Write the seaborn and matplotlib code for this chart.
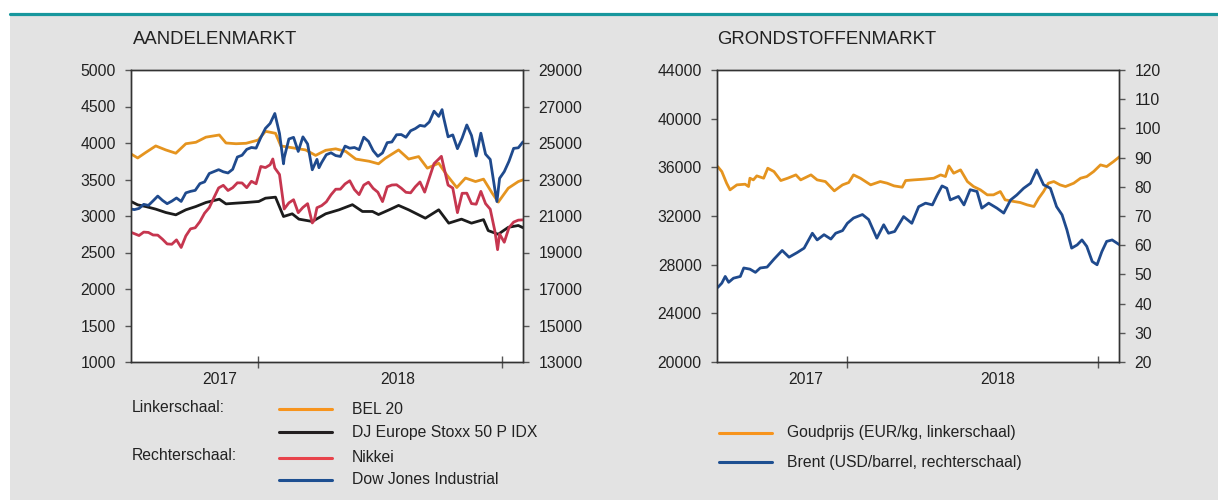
import pandas as pd
import seaborn as sns
import matplotlib.pyplot as plt
from matplotlib.lines import Line2D
from matplotlib.patches import Rectangle

# ---------------- data ----------------
# weekly Friday closes, Dow Jones and Nikkei
week_start, week_end = '2017-06-23', '2019-02-01'
dow_weekly = [21395, 21350, 21414, 21638, 21580, 21830, 22092, 21858, 21675, 21814,
              21988, 21798, 22268, 22350, 22405, 22774, 22871, 23329, 23434, 23539,
              23422, 23358, 23558, 24231, 24329, 24651, 24754, 24719,
              25296, 25803, 26072, 26616, 25521, 24190, 25219, 25310, 24538, 25336,
              24946, 23533, 24103, 23933, 24360, 24463, 24311, 24263, 24831, 24715,
              24753, 24635, 25317, 25090, 24581, 24271, 24456, 25019, 25058, 25451,
              25463, 25313, 25669, 25790, 25965, 25917, 26155, 26744, 26458, 26447,
              25340, 25444, 24688, 25271, 25989, 25413, 24286, 25538, 24389, 24101,
              22445, 23062,
              23433, 23996, 24706, 24737, 25064]
dow_extra_dates = ['2018-02-08', '2018-04-02', '2018-10-03', '2018-12-24']
dow_extra = [23860, 23644, 26828, 21792]

nikkei_weekly = [20133, 20033, 19929, 20118, 20099, 19959, 19952, 19730, 19470, 19452,
                 19691, 19275, 19910, 20296, 20356, 20691, 21155, 21457, 22008, 22539,
                 22681, 22397, 22551, 22819, 22811, 22553, 22902, 22765,
                 23714, 23653, 23808, 23631, 23274, 21383, 21720, 21892, 21182, 21469,
                 21676, 20618, 21454, 21568, 21778, 22162, 22467, 22472, 22758, 22930,
                 22450, 22171, 22694, 22851, 22516, 22304, 21788, 22597, 22697, 22712,
                 22525, 22298, 22270, 22601, 22865, 22307, 23094, 23869, 24120, 23784,
                 22694, 22532, 21184, 22243, 22250, 21680, 21646, 22351, 21679, 21375,
                 20166, 20015,
                 19561, 20360, 20666, 20774, 20788]
nikkei_extra_dates = ['2018-01-23', '2018-03-26', '2018-10-02', '2018-12-25']
nikkei_extra = [24124, 20766, 24270, 19155]

bel_dates = ['2017-06-25', '2017-07-05', '2017-07-17', '2017-08-01', '2017-08-16', '2017-08-31',
             '2017-09-15', '2017-09-30', '2017-10-15', '2017-11-04', '2017-11-14', '2017-11-29',
             '2017-12-14', '2018-01-01', '2018-01-12', '2018-01-27', '2018-02-04', '2018-02-21',
             '2018-03-13', '2018-03-28', '2018-04-12', '2018-04-27', '2018-05-12', '2018-05-27',
             '2018-06-16', '2018-06-30', '2018-07-10', '2018-07-30', '2018-08-14', '2018-08-29',
             '2018-09-11', '2018-09-28', '2018-10-10', '2018-10-25', '2018-11-07', '2018-11-22',
             '2018-12-04', '2018-12-17', '2018-12-26', '2019-01-10', '2019-01-25', '2019-02-01']
bel_values = [3850, 3795, 3870, 3960, 3905, 3860, 3990, 4010, 4080, 4110, 4000, 3990,
              3996, 4040, 4160, 4133, 3960, 3935, 3905, 3830, 3900, 3920, 3885, 3780,
              3750, 3715, 3790, 3905, 3780, 3814, 3655, 3723, 3563, 3390, 3520, 3472,
              3505, 3312, 3190, 3381, 3472, 3495]

stoxx_dates = ['2017-06-25', '2017-07-05', '2017-07-17', '2017-08-01', '2017-08-16', '2017-08-31',
               '2017-09-15', '2017-09-30', '2017-10-15', '2017-11-04', '2017-11-14', '2017-11-29',
               '2017-12-14', '2018-01-02', '2018-01-12', '2018-01-27', '2018-02-08', '2018-02-21',
               '2018-03-03', '2018-03-23', '2018-04-12', '2018-05-02', '2018-05-22', '2018-06-06',
               '2018-06-21', '2018-06-30', '2018-07-16', '2018-07-30', '2018-08-14', '2018-09-08',
               '2018-09-28', '2018-10-13', '2018-11-01', '2018-11-16', '2018-12-04', '2018-12-11',
               '2018-12-26', '2019-01-10', '2019-01-25', '2019-02-01']
stoxx_values = [3199, 3153, 3130, 3094, 3048, 3016, 3085, 3130, 3185, 3230, 3166, 3176,
                3185, 3199, 3244, 3258, 2993, 3030, 2957, 2925, 3030, 3085, 3155, 3062,
                3062, 3020, 3085, 3145, 3085, 2970, 3085, 2902, 2957, 2902, 2950, 2800,
                2750, 2845, 2870, 2840]

gold_dates = ['2017-06-26', '2017-07-02', '2017-07-09', '2017-07-14', '2017-07-24', '2017-08-05',
              '2017-08-10', '2017-08-12', '2017-08-17', '2017-08-22', '2017-09-01', '2017-09-07',
              '2017-09-16', '2017-09-26', '2017-10-06', '2017-10-18', '2017-10-25', '2017-11-09',
              '2017-11-18', '2017-11-30', '2017-12-13', '2017-12-25', '2018-01-03', '2018-01-10',
              '2018-01-20', '2018-02-04', '2018-02-18', '2018-02-28', '2018-03-10', '2018-03-22',
              '2018-03-27', '2018-04-08', '2018-04-22', '2018-05-07', '2018-05-17', '2018-05-24',
              '2018-05-29', '2018-06-05', '2018-06-15', '2018-06-25', '2018-07-04', '2018-07-14',
              '2018-07-24', '2018-08-02', '2018-08-12', '2018-08-19', '2018-09-01', '2018-09-10',
              '2018-09-20', '2018-09-30', '2018-10-07', '2018-10-14', '2018-10-21', '2018-10-29',
              '2018-11-07', '2018-11-15', '2018-11-27', '2018-12-07', '2018-12-16', '2018-12-26',
              '2019-01-05', '2019-01-14', '2019-01-24', '2019-02-02']
gold_values = [36064, 35654, 34696, 34148, 34559, 34613, 34422, 35106, 34969, 35298, 35106, 35927,
               35654, 34914, 35106, 35380, 34969, 35380, 34969, 34832, 34066, 34559, 34750, 35380,
               35106, 34559, 34832, 34696, 34477, 34367, 34914, 34969, 35024, 35106, 35380, 35243,
               36119, 35517, 35791, 34832, 34422, 34148, 33738, 33738, 34011, 33327, 33191, 33109,
               32917, 32780, 33464, 34011, 34696, 34832, 34559, 34422, 34696, 35106, 35243, 35654,
               36201, 36064, 36475, 36885]

brent_dates = ['2017-06-26', '2017-07-02', '2017-07-07', '2017-07-12', '2017-07-19', '2017-07-29',
               '2017-08-03', '2017-08-12', '2017-08-20', '2017-08-27', '2017-09-06', '2017-09-16',
               '2017-09-28', '2017-10-08', '2017-10-20', '2017-10-30', '2017-11-11', '2017-11-18',
               '2017-11-28', '2017-12-08', '2017-12-15', '2017-12-25', '2018-01-01', '2018-01-10',
               '2018-01-23', '2018-02-01', '2018-02-13', '2018-02-23', '2018-03-02', '2018-03-11',
               '2018-03-24', '2018-04-05', '2018-04-15', '2018-04-25', '2018-05-05', '2018-05-12',
               '2018-05-19', '2018-05-26', '2018-05-31', '2018-06-12', '2018-06-20', '2018-06-29',
               '2018-07-09', '2018-07-16', '2018-07-26', '2018-08-07', '2018-08-17', '2018-08-27',
               '2018-09-05', '2018-09-15', '2018-09-25', '2018-10-04', '2018-10-14', '2018-10-24',
               '2018-11-02', '2018-11-10', '2018-11-17', '2018-11-24', '2018-12-02', '2018-12-09',
               '2018-12-16', '2018-12-24', '2018-12-31', '2019-01-07', '2019-01-14', '2019-01-22',
               '2019-02-02']
brent_values = [45.5, 47.0, 49.3, 47.3, 48.7, 49.3, 52.2, 51.8, 50.7, 52.2, 52.5, 55.2,
                58.2, 55.9, 57.5, 59.0, 64.1, 61.8, 63.6, 62.1, 64.1, 65.0, 67.5, 69.3,
                70.5, 68.8, 62.4, 67.0, 64.1, 64.7, 69.8, 67.5, 73.2, 74.4, 73.8, 77.2,
                80.3, 79.5, 75.5, 76.7, 73.8, 79.0, 78.4, 72.7, 74.4, 72.7, 71.0, 75.5,
                77.2, 79.5, 81.2, 85.8, 80.7, 79.5, 73.2, 70.4, 65.3, 59.0, 60.1, 61.8,
                59.6, 54.4, 53.3, 57.8, 61.3, 61.8, 60.1]

titles = ['AANDELENMARKT', 'GRONDSTOFFENMARKT']
year_labels = ['2017', '2018']
year_ticks = ['2018-01-01', '2019-01-01']
left_groups = ['Linkerschaal:', 'Rechterschaal:']
left_labels = ['BEL 20', 'DJ Europe Stoxx 50 P IDX', 'Nikkei', 'Dow Jones Industrial']
right_labels = ['Goudprijs (EUR/kg, linkerschaal)', 'Brent (USD/barrel, rechterschaal)']

# colours
ORANGE, BLACK, RED, BLUE = '#E5941F', '#1C1C1C', '#C6364F', '#1F4A8D'
LEG_COLORS = ['#F7941D', '#231F20', '#E8434B', '#1D4F91']
TEXT = '#222222'


def series(dates, values, extra_dates=None, extra_values=None):
    df = pd.DataFrame({'date': pd.to_datetime(dates), 'value': values})
    if extra_dates:
        df = pd.concat([df, pd.DataFrame({'date': pd.to_datetime(extra_dates),
                                          'value': extra_values})])
    return df.sort_values('date')


weeks = pd.date_range(week_start, week_end, freq='W-FRI')
df_dow = series(list(weeks), dow_weekly, dow_extra_dates, dow_extra)
df_nikkei = series(list(weeks), nikkei_weekly, nikkei_extra_dates, nikkei_extra)
df_bel = series(bel_dates, bel_values)
df_stoxx = series(stoxx_dates, stoxx_values)
df_gold = series(gold_dates, gold_values)
df_brent = series(brent_dates, brent_values)

# ---------------- figure ----------------
sns.set_style('ticks')
plt.rcParams['font.family'] = ['Liberation Sans', 'DejaVu Sans']
plt.rcParams['text.color'] = TEXT

W, H = 1218, 500
fig = plt.figure(figsize=(W / 100, H / 100), dpi=100)
fig.patch.set_facecolor('white')
fig.add_artist(Rectangle((10 / W, 0), 1 - 10 / W, 1 - 15 / H, transform=fig.transFigure,
                         facecolor='#e3e3e3', edgecolor='none', zorder=-10))
fig.add_artist(Line2D([10 / W, 1], [1 - 13.5 / H] * 2, color='#17979d', lw=2.3))

ax1 = fig.add_axes([131 / W, 1 - 362 / H, 392 / W, 292 / H])
ax1r = ax1.twinx()
ax2 = fig.add_axes([717 / W, 1 - 362 / H, 402 / W, 292 / H])
ax2r = ax2.twinx()

LW = 2.0
sns.lineplot(data=df_stoxx, x='date', y='value', ax=ax1, color=BLACK, linewidth=LW)
sns.lineplot(data=df_bel, x='date', y='value', ax=ax1, color=ORANGE, linewidth=LW)
sns.lineplot(data=df_nikkei, x='date', y='value', ax=ax1r, color=RED, linewidth=LW)
sns.lineplot(data=df_dow, x='date', y='value', ax=ax1r, color=BLUE, linewidth=LW)
sns.lineplot(data=df_gold, x='date', y='value', ax=ax2, color=ORANGE, linewidth=LW)
sns.lineplot(data=df_brent, x='date', y='value', ax=ax2r, color=BLUE, linewidth=LW)


def style(ax, axr, ylim, ystep, rlim, rstep, year_pos):
    ax.set_facecolor('white')
    ax.set_ylim(*ylim)
    ax.set_yticks(range(ylim[0], ylim[1] + 1, ystep))
    axr.set_ylim(*rlim)
    axr.set_yticks(range(rlim[0], rlim[1] + 1, rstep))
    ax.set_xlim(pd.Timestamp('2017-06-25'), pd.Timestamp('2019-02-01'))
    for a in (ax, axr):
        a.set_xlabel('')
        a.set_ylabel('')
        for s in a.spines.values():
            s.set_color('#333333')
            s.set_linewidth(1.0)
        a.tick_params(axis='y', direction='out', length=4.5, width=1, color='#555555',
                      labelsize=11.3, labelcolor=TEXT, pad=6.5)
    ax.set_xticks(pd.to_datetime(year_ticks), labels=['', ''])
    ax.tick_params(axis='x', which='major', direction='inout', length=8, width=1, color='#555555')
    ax.set_xticks(pd.to_datetime(year_pos), minor=True)
    ax.set_xticklabels(year_labels, minor=True)
    ax.tick_params(axis='x', which='minor', length=0, pad=7, labelsize=11.3, labelcolor=TEXT)


style(ax1, ax1r, (1000, 5000), 500, (13000, 29000), 2000, ['2017-11-04', '2018-07-28'])
style(ax2, ax2r, (20000, 44000), 4000, (20, 120), 10, ['2017-11-02', '2018-08-08'])

# titles
fig.text(133 / W, 1 - 40 / H, titles[0], fontsize=13.3, va='center')
fig.text(717 / W, 1 - 40 / H, titles[1], fontsize=13.3, va='center')

# legend, left panel
FS = 11.3
fig.text(132 / W, 1 - 407 / H, left_groups[0], fontsize=FS, va='center')
fig.text(132 / W, 1 - 456 / H, left_groups[1], fontsize=FS, va='center')
for yy, lab, col in zip([409, 432, 458, 480], left_labels, LEG_COLORS):
    fig.add_artist(Line2D([279 / W, 332 / W], [1 - yy / H] * 2, color=col, lw=2.2))
    fig.text(352 / W, 1 - yy / H, lab, fontsize=FS, va='center')

# legend, right panel
for yy, lab, col in zip([433, 462], right_labels, [LEG_COLORS[0], LEG_COLORS[3]]):
    fig.add_artist(Line2D([719 / W, 772 / W], [1 - yy / H] * 2, color=col, lw=2.2))
    fig.text(787 / W, 1 - yy / H, lab, fontsize=FS, va='center')

fig.savefig('out.png', dpi=100)
